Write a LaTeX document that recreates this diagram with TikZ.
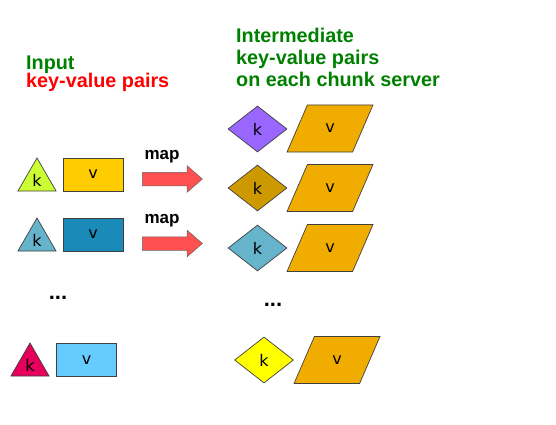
\documentclass[tikz,border=0pt]{standalone}
\usepackage{fontspec}
\setmainfont{Liberation Sans}
\newfontfamily\kvfont{DejaVu Sans}
\usetikzlibrary{shapes.geometric,shapes.arrows}

\definecolor{titlegreen}{HTML}{008000}
\definecolor{titlered}{HTML}{FF0000}
\definecolor{lime}{HTML}{CCFF33}
\definecolor{gold}{HTML}{FFCC00}
\definecolor{steel}{HTML}{66B3CC}
\definecolor{ocean}{HTML}{1A8AB8}
\definecolor{rosered}{HTML}{E6005C}
\definecolor{sky}{HTML}{66CCFF}
\definecolor{violet}{HTML}{9966FF}
\definecolor{ochre}{HTML}{CC9900}
\definecolor{lemon}{HTML}{FFFF00}
\definecolor{amber}{HTML}{F0AD00}
\definecolor{maparrow}{HTML}{FF5050}

\begin{document}
\begin{tikzpicture}[x=1pt,y=-1pt,
    title/.style={anchor=base west,inner sep=0pt,font=\bfseries\fontsize{19.8}{22}\selectfont},
    kv/.style={draw=black!75,line width=0.7pt,inner sep=0pt,font=\kvfont\fontsize{16}{18}\selectfont},
    inkey/.style={kv,regular polygon,regular polygon sides=3,minimum size=44pt},
    inval/.style={kv,rectangle,minimum width=60pt,minimum height=33pt},
    midkey/.style={kv,diamond,minimum width=59pt,minimum height=46pt},
    midval/.style={kv,trapezium,trapezium left angle=64,trapezium right angle=116,
        trapezium stretches=true,minimum width=86pt,minimum height=47pt,fill=amber},
    maparr/.style={single arrow,draw=black!60,line width=0.5pt,fill=maparrow,
        inner xsep=0pt,inner ysep=6.5pt,minimum height=60pt,
        single arrow head extend=6.5pt,single arrow tip angle=82},
    maplabel/.style={inner sep=0pt,font=\bfseries\fontsize{17}{19}\selectfont},
    dots/.style={inner sep=0pt,font=\bfseries\fontsize{22}{24}\selectfont}
]
\useasboundingbox (0,0) rectangle (556,425);

% titles
\node[title,text=titlegreen] (intitle) at (26,70) {Input};
\node[title,text=titlered] (insub) at (26,88) {key-value pairs};
\node[title,text=titlegreen] (midtitle) at (236,43) {Intermediate};
\node[title,text=titlegreen] (midsub) at (236,65) {key-value pairs};
\node[title,text=titlegreen] (midsub2) at (236,87) {on each chunk server};

% input pairs
\node[inkey,fill=lime] (k1) at (37,180) {k};
\node[inval,fill=gold] (v1) at (93,174.5) {v};
\node[inkey,fill=steel] (k2) at (37,240) {k};
\node[inval,fill=ocean] (v2) at (93,234.5) {v};
\node[dots] (indots) at (58,298) {...};
\node[inkey,fill=rosered] (k3) at (30,365) {k};
\node[inval,fill=sky] (v3) at (86.5,360) {v};

% map arrows
\node[maparr] (map1) at (168.5,179) {};
\node[maplabel] (maplab1) at (162,157) {map};
\node[maparr] (map2) at (168.5,243.5) {};
\node[maplabel] (maplab2) at (162,221) {map};

% intermediate pairs
\node[midkey,fill=violet] (mk1) at (257.5,129) {k};
\node[midval] (mv1) at (330,128.5) {v};
\node[midkey,fill=ochre] (mk2) at (257.5,188) {k};
\node[midval] (mv2) at (330,188) {v};
\node[midkey,fill=steel] (mk3) at (257.5,248) {k};
\node[midval] (mv3) at (330,248) {v};
\node[dots] (middots) at (273,305) {...};
\node[midkey,fill=lemon] (mk4) at (264,360) {k};
\node[midval] (mv4) at (337,360) {v};
\end{tikzpicture}
\end{document}
